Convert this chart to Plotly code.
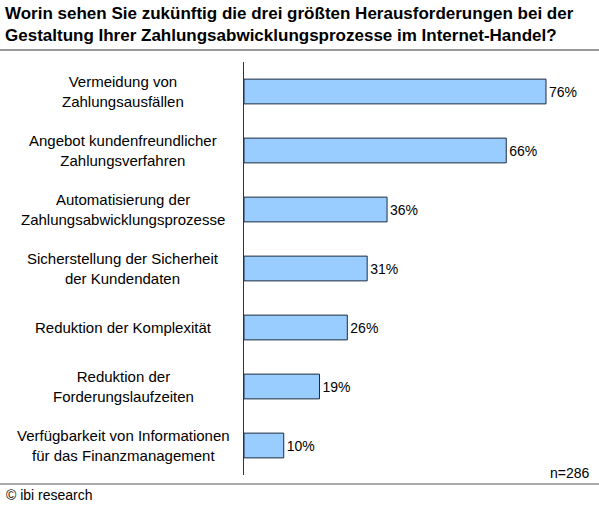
import plotly.graph_objects as go

categories = ["Vermeidung von<br>Zahlungsausfällen",
              "Angebot kundenfreundlicher<br>Zahlungsverfahren",
              "Automatisierung der<br>Zahlungsabwicklungsprozesse",
              "Sicherstellung der Sicherheit<br>der Kundendaten",
              "Reduktion der Komplexität",
              "Reduktion der<br>Forderungslaufzeiten",
              "Verfügbarkeit von Informationen<br>für das Finanzmanagement"]
values = [76, 66, 36, 31, 26, 19, 10]

W, H = 599, 508
L, R, T, B = 244, 4, 62, 33
pw = W - L - R
ph = H - T - B
FONT = "Liberation Sans, Arial, sans-serif"

def px(x):
    return (x - L) / pw

def py(y):
    return (H - B - y) / ph

fig = go.Figure(go.Bar(
    y=list(range(len(values))), x=values, orientation="h", width=0.42,
    marker=dict(color="#99ccff", line=dict(color="#1f2d3d", width=1)),
    text=[f"{v}%" for v in values], textposition="outside",
    textfont=dict(family=FONT, size=14, color="#000"), cliponaxis=False))

for i, c in enumerate(categories):
    fig.add_annotation(x=px(123), xref="paper", y=i, yref="y", text=c,
                       showarrow=False, align="center", xanchor="center",
                       font=dict(family=FONT, size=15, color="#000"))

fig.add_annotation(x=px(3), xref="paper", xanchor="left", y=py(2), yref="paper", yanchor="top",
                   text="<b>Worin sehen Sie zukünftig die drei größten Herausforderungen bei der<br>Gestaltung Ihrer Zahlungsabwicklungsprozesse im Internet-Handel?</b>",
                   showarrow=False, align="left", font=dict(family=FONT, size=17, color="#000"))
fig.add_annotation(x=px(592), y=py(483), xref="paper", yref="paper",
                   xanchor="right", yanchor="bottom", text="n=286", showarrow=False,
                   font=dict(family=FONT, size=14, color="#000"))
fig.add_annotation(x=px(4), y=py(505), xref="paper", yref="paper",
                   xanchor="left", yanchor="bottom", text="© ibi research", showarrow=False,
                   font=dict(family=FONT, size=14, color="#000"))

fig.add_shape(type="line", xref="paper", yref="paper", x0=px(0), x1=px(W),
              y0=py(50), y1=py(50), line=dict(color="#999", width=2))
fig.add_shape(type="line", xref="paper", yref="paper", x0=px(0), x1=px(W),
              y0=py(484), y1=py(484), line=dict(color="#555", width=1))

fig.update_layout(
    width=W, height=H, margin=dict(l=L, r=R, t=T, b=B),
    paper_bgcolor="white", plot_bgcolor="white", showlegend=False,
    xaxis=dict(range=[0, pw / ((546 - L) / 76)], visible=False, fixedrange=True),
    yaxis=dict(range=[6.5, -0.5], showticklabels=False, ticks="", showgrid=False,
               zeroline=False, showline=True, linecolor="#333", linewidth=1))
fig.write_html("out.html", config={"displayModeBar": False},
               post_script="document.body.style.margin='0';document.body.style.overflow='hidden';")
